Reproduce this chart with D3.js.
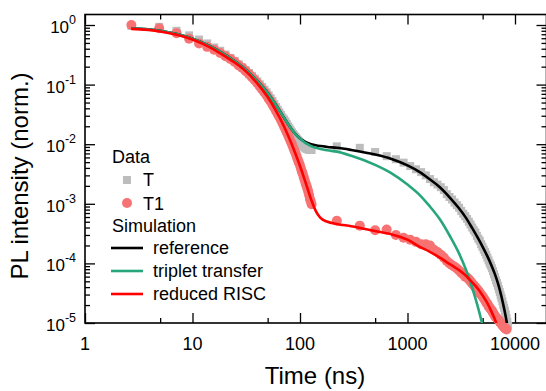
<!DOCTYPE html>
<html>
<head>
<meta charset="utf-8">
<script src="https://cdn.jsdelivr.net/npm/d3@7/dist/d3.min.js"></script>
<style>
  body { margin: 0; background: #fff; }
  svg { display: block; }
  text { font-family: "Liberation Sans", Arial, sans-serif; fill: #000; }
</style>
</head>
<body>
<div id="chart"></div>
<script>
const w = 546;
const h = 391;

// measured time grid, short window (ns)
const tEarly = [2.7, 4.9, 7.1, 9.3, 11.5, 13.7, 15.9, 18.1, 20.3, 22.5, 24.7, 26.9, 29.1, 31.3,
  33.5, 35.7, 37.9, 40.1, 42.3, 44.5, 46.7, 48.9, 51.1, 53.3, 55.5, 57.7, 59.9, 62.1, 64.3,
  66.5, 68.7, 70.9, 73.1, 75.3, 77.5, 79.7, 81.9, 84.1, 86.3, 88.5, 90.7, 92.9, 95.1, 97.3,
  99.5, 101.7, 103.9, 106.1, 108.3, 110.5, 112.7, 114.9, 117.1, 119.3, 121.5, 123.7, 125.9, 128.1];

// measured time grid, long window (ns)
const tLate = [220, 360, 500, 640, 780, 920, 1060, 1200, 1340, 1480, 1620, 1760, 1900, 2040,
  2180, 2320, 2460, 2600, 2740, 2880, 3020, 3160, 3300, 3440, 3580, 3720, 3860, 4000, 4140,
  4280, 4420, 4560, 4700, 4840, 4980, 5120, 5260, 5400, 5540, 5680, 5820, 5960, 6100, 6240,
  6380, 6520, 6660, 6800, 6940, 7080, 7220, 7360, 7500, 7640, 7780, 7920, 8060, 8200, 8340,
  8480, 8620];

// data "T" (grey squares)
const valTEarly = [0.97, 0.93, 0.80, 0.67, 0.57, 0.49, 0.42, 0.37, 0.32, 0.28, 0.25, 0.22, 0.195,
  0.175, 0.157, 0.14, 0.126, 0.113, 0.101, 0.091, 0.082, 0.074, 0.066, 0.059, 0.053, 0.047,
  0.042, 0.038, 0.034, 0.031, 0.028, 0.026, 0.024, 0.022, 0.020, 0.0185, 0.017, 0.0158, 0.0148,
  0.014, 0.0132, 0.0125, 0.0118, 0.0112, 0.0107, 0.0102, 0.0098, 0.0094, 0.0091, 0.0088,
  0.0086, 0.0084, 0.0083, 0.0082, 0.0081, 0.0081, 0.008, 0.008];
const valTLate = [0.0092, 0.0087, 0.0074, 0.0063, 0.0056, 0.0049, 0.0043, 0.0038, 0.0034, 0.0030,
  0.0026, 0.0023, 0.0021, 0.0019, 0.0017, 0.00145, 0.0013, 0.00118, 0.00105, 0.00095, 0.00086,
  0.00076, 0.00068, 0.00062, 0.00056, 0.0005, 0.00045, 0.0004, 0.00036, 0.00033, 0.00029,
  0.00026, 0.00024, 0.00021, 0.00019, 0.00017, 0.000155, 0.00014, 0.000125, 0.000112, 0.0001,
  9.2e-5, 8.3e-5, 7.4e-5, 6.6e-5, 5.9e-5, 5.2e-5, 4.7e-5, 4.2e-5, 3.7e-5, 3.3e-5, 2.9e-5,
  2.6e-5, 2.3e-5, 2.0e-5, 1.8e-5, 1.6e-5, 1.4e-5, 1.2e-5, 1.05e-5, 9e-6];

// data "T1" (red circles)
const valT1Early = [1.0, 0.88, 0.73, 0.59, 0.49, 0.43, 0.385, 0.34, 0.30, 0.27, 0.24, 0.21, 0.19,
  0.168, 0.15, 0.133, 0.118, 0.105, 0.093, 0.083, 0.074, 0.066, 0.058, 0.052, 0.046, 0.041,
  0.036, 0.032, 0.0286, 0.0254, 0.0226, 0.0201, 0.0178, 0.0158, 0.0141, 0.0126, 0.0112, 0.0100,
  0.0089, 0.0079, 0.0071, 0.0063, 0.0056, 0.0050, 0.0045, 0.0040, 0.0035, 0.0032, 0.0028,
  0.0025, 0.0022, 0.0020, 0.0018, 0.0016, 0.0014, 0.0012, 0.0011, 0.00098];
const valT1Late = [0.00052, 0.00043, 0.00036, 0.00037, 0.0003, 0.00027, 0.00025, 0.00023, 0.00021,
  0.00021, 0.0002, 0.00017, 0.000155, 0.00014, 0.000125, 0.00011, 0.0001, 9.3e-5, 8.8e-5,
  8.2e-5, 7.6e-5, 7e-5, 6.5e-5, 6e-5, 5.8e-5, 5.4e-5, 5e-5, 4.6e-5, 4.3e-5, 4e-5, 3.7e-5,
  3.5e-5, 3.2e-5, 3e-5, 2.8e-5, 2.6e-5, 2.4e-5, 2.2e-5, 2.1e-5, 1.9e-5, 1.8e-5, 1.7e-5,
  1.6e-5, 1.5e-5, 1.4e-5, 1.3e-5, 1.25e-5, 1.2e-5, 1.15e-5, 1.1e-5, 1.05e-5, 1e-5, 9.6e-6,
  9.2e-6, 8.8e-6, 8.5e-6, 8.2e-6, 8e-6, 7.8e-6, null, null];

// simulations
const simTime = [2.7, 5, 7, 10, 15, 20, 30, 40, 50, 60, 70, 80, 90, 100, 110, 120, 130, 140, 155,
  180, 220, 300, 500, 700, 1000, 1300, 1600, 2000, 2500, 3000, 3500, 4000, 4500, 5000, 5500,
  6000, 6500, 7000, 8000, 9000];
const simReference = [0.88, 0.80, 0.71, 0.59, 0.43, 0.32, 0.19, 0.115, 0.072, 0.045, 0.029, 0.020,
  0.015, 0.0125, 0.0112, 0.0104, 0.0099, 0.0096, 0.0093, 0.0090, 0.0087, 0.0080, 0.0067, 0.0057,
  0.0044, 0.0034, 0.0026, 0.0019, 0.00125, 0.00085, 0.00058, 0.00039, 0.00027, 0.00019,
  0.000135, 9.5e-5, 6.6e-5, 4.4e-5, 1.6e-5, 5e-6];
const simTriplet = [0.88, 0.80, 0.71, 0.59, 0.43, 0.32, 0.19, 0.115, 0.072, 0.045, 0.029, 0.020,
  0.015, 0.0125, 0.0108, 0.0098, 0.0091, 0.0087, 0.0083, 0.0079, 0.0075, 0.0064, 0.0045, 0.0033,
  0.0021, 0.0014, 0.00092, 0.00055, 0.00028, 0.00015, 7.8e-5, 3.9e-5, 1.9e-5, 9e-6, 4e-6,
  null, null, null, null, null];
const simRisc = [0.86, 0.78, 0.69, 0.57, 0.41, 0.30, 0.18, 0.105, 0.062, 0.036, 0.021, 0.0122,
  0.0072, 0.0043, 0.0026, 0.0016, 0.00105, 0.00076, 0.00058, 0.0005, 0.00046, 0.00042, 0.00035,
  0.00031, 0.00025, 0.00019, 0.000158, 0.000125, 9.6e-5, 7.8e-5, 6.2e-5, 4.8e-5, 3.8e-5,
  2.9e-5, 2.2e-5, 1.6e-5, 1.15e-5, 8e-6, null, null];

const xMajor = [1, 10, 100, 1000, 10000];
const xMinor = [5, 50, 500, 5000];
const yMajor = [1, 1e-1, 1e-2, 1e-3, 1e-4, 1e-5];
const yExp = ["0", "-1", "-2", "-3", "-4", "-5"];

const colT = "#bdbdbd";
const colT1 = "#f77272";
const colRef = "#000000";
const colTrip = "#27a67c";
const colRisc = "#ff0000";

const plotL = 85, plotR = 546.5, plotT = 14.5, plotB = 323;

const x = d3.scaleLog().domain([1, 10000]).range([plotL, 515]);
const y = d3.scaleLog().domain([1e-5, 1]).range([plotB, 25]);

const yMinor = [];
yMajor.slice(0, 5).forEach(function (d) {
  for (let k = 2; k <= 9; k++) yMinor.push(d / 10 * k);
});

const svg = d3.select("#chart").append("svg").attr("width", w).attr("height", h);

svg.append("defs").append("clipPath").attr("id", "plot")
  .append("rect").attr("x", plotL).attr("y", plotT)
  .attr("width", plotR - plotL).attr("height", plotB - plotT);

// ticks (inward) on all four sides
function ticks(axis, vals, size, tx, ty) {
  const g = svg.append("g").attr("transform", "translate(" + tx + "," + ty + ")")
    .call(axis.tickValues(vals).tickSize(size).tickFormat(""));
  g.select(".domain").remove();
  g.selectAll("line").attr("stroke", "#000").attr("stroke-width", 1.3);
}
ticks(d3.axisBottom(x), xMajor, -10, 0, plotB);
ticks(d3.axisBottom(x), xMinor, -5, 0, plotB);
ticks(d3.axisTop(x), xMajor, -10, 0, plotT);
ticks(d3.axisTop(x), xMinor, -5, 0, plotT);
ticks(d3.axisLeft(y), yMajor, -10, plotL, 0);
ticks(d3.axisLeft(y), yMinor, -5, plotL, 0);
ticks(d3.axisRight(y), yMajor, -10, plotR, 0);
ticks(d3.axisRight(y), yMinor, -5, plotR, 0);

svg.append("rect").attr("x", plotL).attr("y", plotT)
  .attr("width", plotR - plotL).attr("height", plotB - plotT)
  .attr("fill", "none").attr("stroke", "#000").attr("stroke-width", 1.6);

// tick labels
svg.append("g").selectAll("text").data(xMajor).enter().append("text")
  .attr("x", d => x(d)).attr("y", 350)
  .attr("text-anchor", "middle").style("font-size", "18px")
  .text(d => d);

const yl = svg.append("g").selectAll("text").data(yMajor).enter().append("text")
  .attr("x", 76).attr("y", d => y(d) + 8)
  .attr("text-anchor", "end").style("font-size", "17px");
yl.append("tspan").text("10");
yl.append("tspan").attr("dy", -9).style("font-size", "12.5px").text((d, i) => yExp[i]);

// axis titles
svg.append("text").attr("x", 315).attr("y", 384).attr("text-anchor", "middle")
  .style("font-size", "24px").text("Time (ns)");
svg.append("text").attr("transform", "translate(28,176) rotate(-90)")
  .attr("text-anchor", "middle").style("font-size", "24px").text("PL intensity (norm.)");

// data
const ptsT = tEarly.map((t, i) => [t, valTEarly[i]])
  .concat(tLate.map((t, i) => [t, valTLate[i]]));
const ptsT1 = tEarly.map((t, i) => [t, valT1Early[i]])
  .concat(tLate.map((t, i) => [t, valT1Late[i]]))
  .filter(d => d[1] != null);

svg.append("g").selectAll("rect").data(ptsT).enter().append("rect")
  .attr("x", d => x(d[0]) - 4).attr("y", d => y(d[1]) - 4)
  .attr("width", 8).attr("height", 8).attr("fill", colT);

svg.append("g").selectAll("circle").data(ptsT1).enter().append("circle")
  .attr("cx", d => x(d[0])).attr("cy", d => y(d[1]))
  .attr("r", 5).attr("fill", colT1);

// simulations
const line = d3.line()
  .defined(d => d[1] != null)
  .x(d => x(d[0])).y(d => y(d[1]))
  .curve(d3.curveMonotoneX);

const sims = [
  { vals: simReference, color: colRef },
  { vals: simTriplet, color: colTrip },
  { vals: simRisc, color: colRisc },
];
const lines = svg.append("g").attr("clip-path", "url(#plot)");
sims.forEach(function (s) {
  lines.append("path")
    .datum(simTime.map((t, i) => [t, s.vals[i]]))
    .attr("d", line)
    .attr("fill", "none").attr("stroke", s.color).attr("stroke-width", 2.6);
});

// legend
const lg = svg.append("g").style("font-size", "18px");
lg.append("text").attr("x", 112).attr("y", 163).text("Data");
lg.append("rect").attr("x", 123).attr("y", 176).attr("width", 8).attr("height", 8).attr("fill", colT);
lg.append("text").attr("x", 143).attr("y", 186).text("T");
lg.append("circle").attr("cx", 127).attr("cy", 203).attr("r", 5).attr("fill", colT1);
lg.append("text").attr("x", 143).attr("y", 210).text("T1");
lg.append("text").attr("x", 112).attr("y", 232).text("Simulation");
const simNames = ["reference", "triplet transfer", "reduced RISC"];
simNames.forEach(function (n, i) {
  const yy = 248 + i * 23;
  lg.append("line").attr("x1", 111).attr("x2", 143).attr("y1", yy).attr("y2", yy)
    .attr("stroke", sims[i].color).attr("stroke-width", 2.6);
  lg.append("text").attr("x", 153).attr("y", yy + 6).text(n);
});
</script>
</body>
</html>
